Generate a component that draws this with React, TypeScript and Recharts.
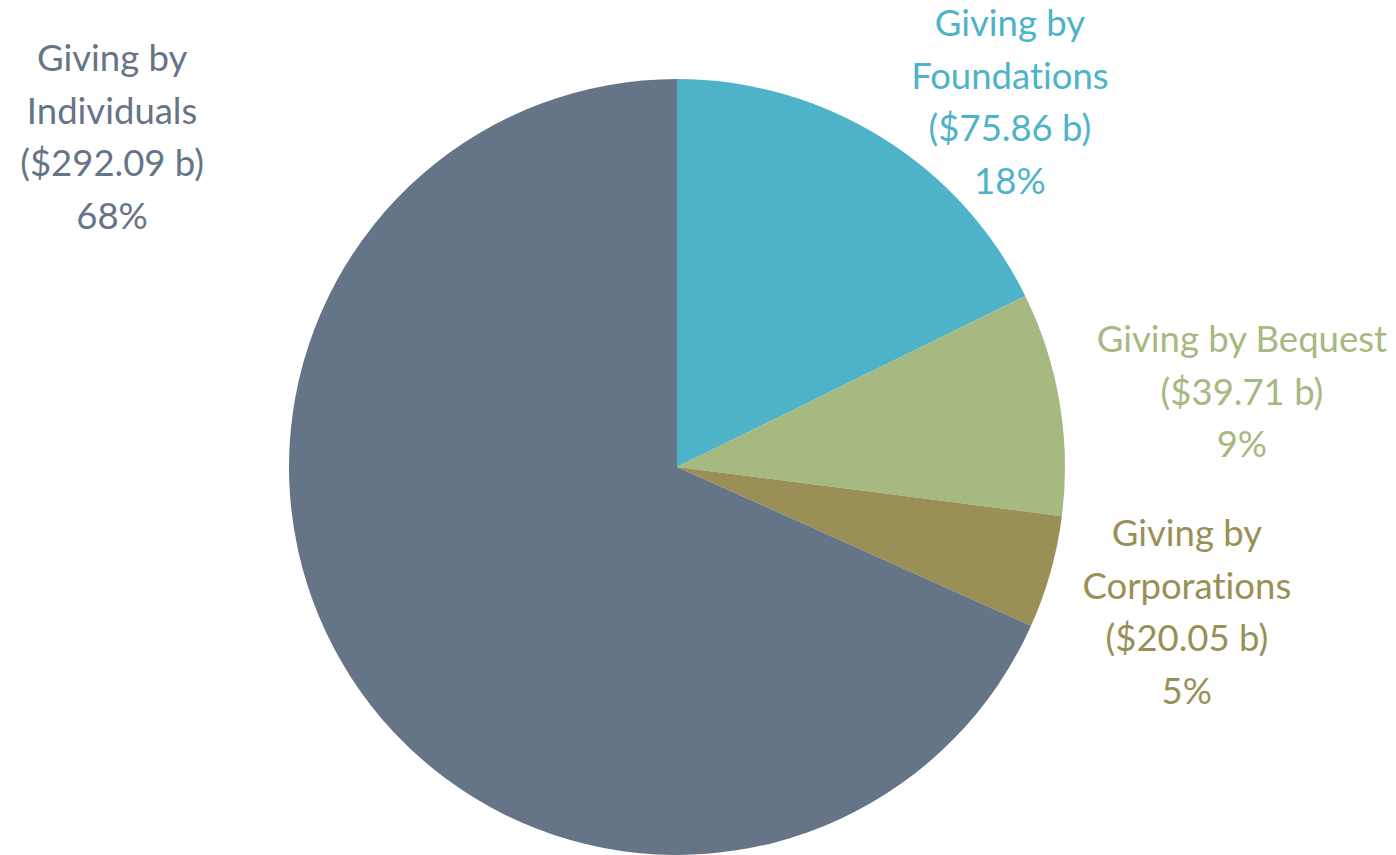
import React from "react";
import { PieChart, Pie, Cell } from "recharts";

const categories = ["Giving by Foundations", "Giving by Bequest", "Giving by Corporations", "Giving by Individuals"];
const nameLines = [["Giving by", "Foundations"], ["Giving by Bequest"], ["Giving by", "Corporations"], ["Giving by", "Individuals"]];
const values = [75.86, 39.71, 20.05, 292.09];
const colors = ["#4EB3C8", "#A6B981", "#9A9056", "#657487"];
// label centre offsets in units of outer radius
const labelOffsets = [[0.858, -0.943], [1.456, -0.196], [1.314, 0.371], [-1.456, -0.853]];

const data = categories.map((name, i) => ({ name, value: values[i] }));

const LINE_H = 52.5;

const renderLabel = (props: any) => {
  const { cx, cy, outerRadius, index, percent, value } = props;
  const [ox, oy] = labelOffsets[index];
  const x = cx + ox * outerRadius;
  const y = cy + oy * outerRadius;
  const lines = [...nameLines[index], `($${value.toFixed(2)} b)`, `${Math.round(percent * 100)}%`];
  const startY = y - ((lines.length - 1) * LINE_H) / 2;
  return (
    <text
      x={x}
      y={startY}
      fill={colors[index]}
      textAnchor="middle"
      dominantBaseline="central"
      style={{ fontFamily: "Lato, 'Noto Sans', sans-serif", fontSize: 36.5, fontVariantLigatures: "none" }}
    >
      {lines.map((l, i) => (
        <tspan key={i} x={x} y={startY + i * LINE_H} dominantBaseline="central">
          {l}
        </tspan>
      ))}
    </text>
  );
};

export default function App() {
  return (
    <div style={{ position: "absolute", left: 0, top: 0, width: 1396, height: 855, background: "#fff" }}>
      <PieChart width={1396} height={855} margin={{ top: 0, right: 0, bottom: 0, left: 0 }}>
        <Pie
          data={data}
          dataKey="value"
          nameKey="name"
          cx={677}
          cy={467}
          outerRadius={388}
          startAngle={90}
          endAngle={-270}
          stroke="none"
          label={renderLabel}
          labelLine={false}
          isAnimationActive={false}
        >
          {data.map((d, i) => (
            <Cell key={d.name} fill={colors[i]} />
          ))}
        </Pie>
      </PieChart>
    </div>
  );
}
